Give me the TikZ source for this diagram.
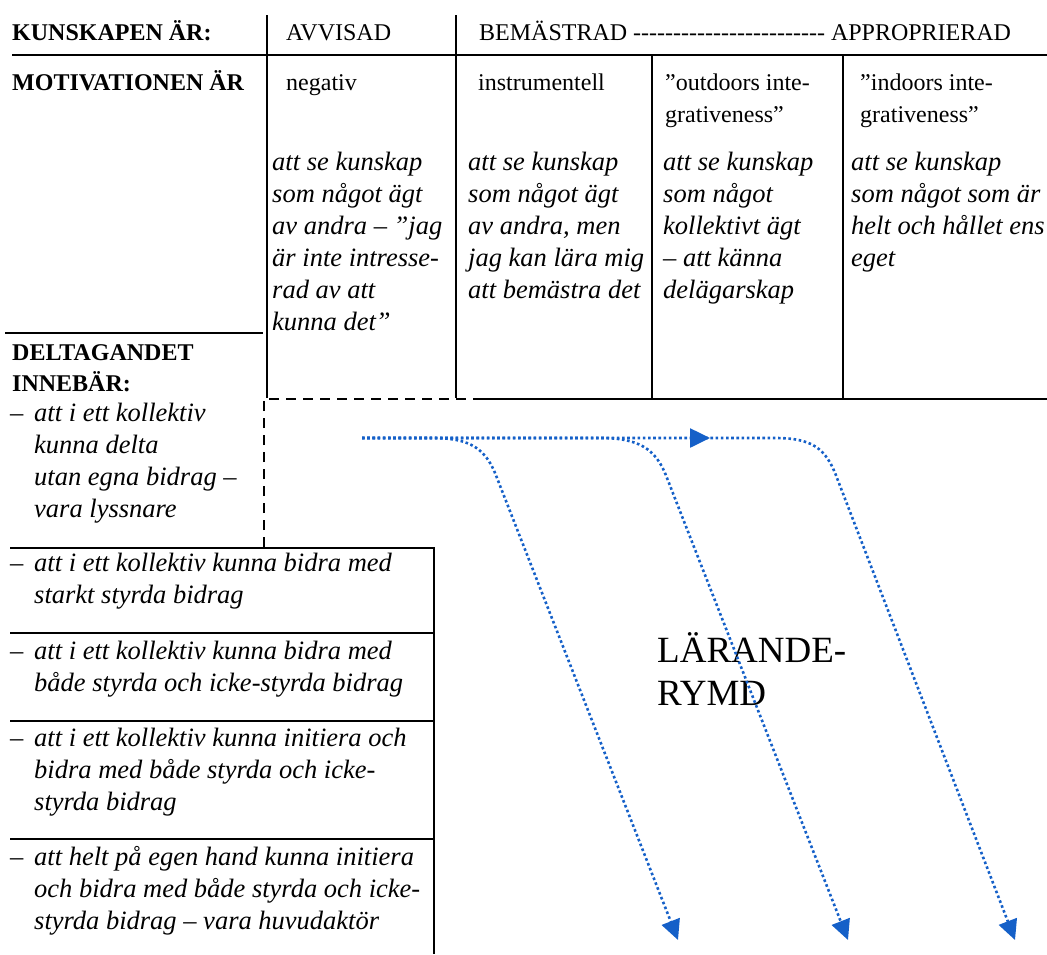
\documentclass[tikz,border=0pt]{standalone}
\usepackage{fontspec}
\setmainfont{Liberation Serif}[Ligatures=TeXOff]
\usepackage{tikz}
\usetikzlibrary{arrows.meta,decorations.markings}
\usepackage{xcolor}
\definecolor{FlowBlue}{HTML}{1560C8}
\newcommand{\itemdash}{\makebox[24pt][l]{–}}
\newcommand{\itemind}{\hspace*{24pt}}
% multi-line nodes sit on the baseline of their last line
\tikzset{
  hdr/.style={anchor=base west,inner sep=0pt,align=left,
              font=\bfseries\fontsize{24}{31}\selectfont},
  cell/.style={anchor=base west,inner sep=0pt,align=left,
               font=\fontsize{24}{32}\selectfont},
  note/.style={anchor=base west,inner sep=0pt,align=left,
               font=\itshape\fontsize{26.5}{32}\selectfont},
  rule/.style={line width=1.3pt},
  bigrule/.style={line width=2.8pt},
  dashrule/.style={line width=2.8pt,dash pattern=on 10pt off 7pt},
  flow/.style={FlowBlue,line width=2.6pt,dash pattern=on 2.6pt off 2.6pt,
               -{Triangle[length=20pt,width=19pt]}},
}

\begin{document}
\begin{tikzpicture}[x=1pt,y=-1pt]
  \useasboundingbox (0,0) rectangle (1047,954);

  % table rules
  \draw[rule] (12,55) -- (1047,55);
  \draw[rule] (267,15) -- (267,398);
  \draw[rule] (456,15) -- (456,398);
  \draw[rule] (652,55) -- (652,398);
  \draw[rule] (843,55) -- (843,398);
  \draw[rule] (5,333) -- (263,333);
  \draw[dashrule] (264,547) -- (264,399) -- (474,399);
  \draw[bigrule] (474,399) -- (1047,399);
  \draw[rule] (10,548) -- (434,548);
  \draw[rule] (10,633) -- (434,633);
  \draw[rule] (10,721) -- (434,721);
  \draw[rule] (10,839) -- (434,839);
  \draw[bigrule] (434,547) -- (434,954);

  % header rows
  \node[hdr] (kunskap) at (12,40) {KUNSKAPEN ÄR:};
  \node[cell] (avvisad) at (286,40) {AVVISAD};
  \node[cell] (bemastrad) at (479,40)
    {BEMÄSTRAD ------------------------ APPROPRIERAD};
  \node[hdr] (motiv) at (12,90) {MOTIVATIONEN ÄR};
  \node[cell] (negativ) at (286,90) {negativ};
  \node[cell] (instr) at (478,90) {instrumentell};
  \node[cell] (outdoors) at (665,122) {”outdoors inte-\\grativeness”};
  \node[cell] (indoors) at (860,122) {”indoors inte-\\grativeness”};

  % descriptions
  \node[note] (descA) at (272,330) {att se kunskap\\som något ägt\\av andra – ”jag\\är inte intresse-\\rad av att\\kunna det”};
  \node[note] (descB) at (468,298) {att se kunskap\\som något ägt\\av andra, men\\jag kan lära mig\\att bemästra det};
  \node[note] (descC) at (663,298) {att se kunskap\\som något\\kollektivt ägt\\– att känna\\delägarskap};
  \node[note] (descD) at (851,266) {att se kunskap\\som något som är\\helt och hållet ens\\eget};

  % participation column
  \node[hdr] (delta) at (12,391) {DELTAGANDET\\INNEBÄR:};
  \node[note] (part1) at (10,517) {\itemdash att i ett kollektiv\\\itemind kunna delta\\\itemind utan egna bidrag –\\\itemind vara lyssnare};
  \node[note] (part2) at (10,603) {\itemdash att i ett kollektiv kunna bidra med\\\itemind starkt styrda bidrag};
  \node[note] (part3) at (10,691) {\itemdash att i ett kollektiv kunna bidra med\\\itemind både styrda och icke-styrda bidrag};
  \node[note] (part4) at (10,810) {\itemdash att i ett kollektiv kunna initiera och\\\itemind bidra med både styrda och icke-\\\itemind styrda bidrag};
  \node[note] (part5) at (10,929) {\itemdash att helt på egen hand kunna initiera\\\itemind och bidra med både styrda och icke-\\\itemind styrda bidrag – vara huvudaktör};

  \node[cell,font=\fontsize{37}{43}\selectfont] (rymd) at (657,705) {LÄRANDE-\\RYMD};

  % learning paths
  \coordinate (start) at (362,438);
  \coordinate (endA) at (678,940);
  \coordinate (endB) at (848,940);
  \coordinate (endC) at (1015,940);
  \draw[flow] (start) -- (432,438) .. controls (470,438) and (486,448) .. (497,478) -- (endA);
  \draw[flow] (start) -- (600,438) .. controls (638,438) and (656,448) .. (667,478) -- (endB);
  \draw[flow,postaction={decorate},
        decoration={markings,mark=at position 348pt with {\arrow{Triangle[length=20pt,width=19pt]}}}]
    (start) -- (775,438) .. controls (812,438) and (826,448) .. (837,478) -- (endC);

\end{tikzpicture}
\end{document}
